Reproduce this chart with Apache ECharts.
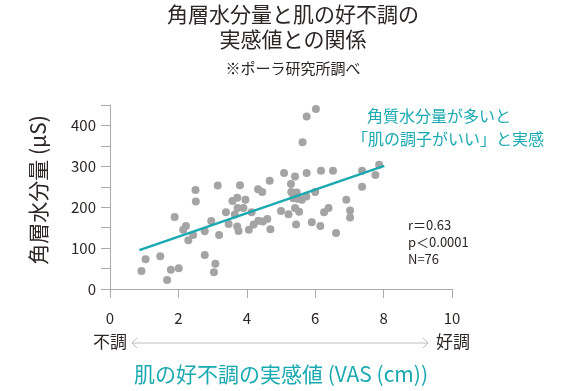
<!DOCTYPE html>
<html>
<head>
<meta charset="utf-8">
<script src="https://cdn.jsdelivr.net/npm/echarts@6/dist/echarts.min.js"></script>
<style>
html,body{margin:0;padding:0;background:#fff;}
#c{width:586px;height:391px;}
</style>
</head>
<body>
<div id="c"></div>
<script>
// VAS values (x) and stratum corneum water content (y)
const vasValues = [0.92,1.04,1.47,1.67,1.78,2.01,1.89,2.14,2.22,2.29,2.43,2.50,2.51,2.77,2.77,2.96,3.04,3.08,3.15,3.19,
  3.39,3.47,3.58,3.65,3.72,3.72,3.73,3.76,3.80,3.90,3.96,4.06,4.14,4.20,4.33,4.34,4.45,4.47,4.60,4.67,
  4.69,5.00,5.09,5.22,5.29,5.30,5.36,5.41,5.41,5.44,5.46,5.48,5.53,5.61,5.63,5.74,5.75,5.75,5.90,6.00,
  6.02,6.15,6.17,6.26,6.39,6.52,6.61,6.91,7.02,7.02,7.37,7.37,7.76,7.87];
const waterValues = [44,73,80,22,47,51,176,145,154,119,132,242,214,141,83,166,41,62,253,132,
  188,159,215,182,223,153,198,142,254,198,218,145,188,158,244,167,237,165,171,265,
  146,191,284,183,257,237,222,275,198,158,236,221,189,218,359,226,422,284,163,237,
  440,154,289,188,198,289,137,218,192,175,289,250,279,304];
// regression line end points
const trendX = [0.86, 8.02];
const trendY = [95, 301];
const xTicks = [0, 2, 4, 6, 8, 10];
const yTickLabels = [0, 100, 200, 300, 400];

const TEAL = '#19a9b0';
const DARK = '#2b2523';
const FONT = '"Noto Sans CJK JP", "Noto Sans", sans-serif';

const points = vasValues.map((v, i) => [v, waterValues[i]]);
const trend = trendX.map((v, i) => [v, trendY[i]]);

const chart = echarts.init(document.getElementById('c'), null, {renderer: 'canvas'});
chart.setOption({
  animation: false,
  backgroundColor: '#fff',
  textStyle: {fontFamily: FONT},
  title: {
    text: '角層水分量と肌の好不調の\n実感値との関係',
    subtext: '※ポーラ研究所調べ',
    left: 'center',
    top: -3,
    itemGap: 9,
    textStyle: {fontFamily: FONT, fontSize: 21, fontWeight: 'normal', color: DARK, lineHeight: 25},
    subtextStyle: {fontFamily: FONT, fontSize: 15, color: DARK}
  },
  grid: {left: 110, right: 134, top: 105, bottom: 102},
  xAxis: {
    type: 'value', min: xTicks[0], max: xTicks[xTicks.length - 1], interval: 2,
    axisLine: {show: true, lineStyle: {color: '#aaaaaa', width: 1}},
    axisTick: {show: true, length: 9, lineStyle: {color: '#aaaaaa'}},
    splitLine: {show: false},
    axisLabel: {margin: 22, fontSize: 15, color: DARK, fontFamily: FONT}
  },
  yAxis: {
    type: 'value', min: 0, max: 450, interval: 50,
    axisLine: {show: true, lineStyle: {color: '#aaaaaa', width: 1}},
    axisTick: {show: true, length: 9, lineStyle: {color: '#aaaaaa'}},
    splitLine: {show: false},
    axisLabel: {
      margin: 14, fontSize: 15, color: DARK, fontFamily: FONT,
      formatter: v => (yTickLabels.indexOf(v) >= 0 ? String(v) : '')
    }
  },
  series: [
    {
      type: 'scatter', data: points, symbolSize: 8,
      itemStyle: {color: '#a4a4a4', opacity: 1}, z: 2
    },
    {
      type: 'line', data: trend, symbol: 'none',
      lineStyle: {color: TEAL, width: 2.5}, z: 3
    }
  ],
  graphic: [
    {type: 'text', x: 38, y: 190, rotation: Math.PI / 2, style: {text: '角層水分量 (μS)', font: '21px ' + FONT, fill: DARK, align: 'center', verticalAlign: 'middle'}},
    {type: 'text', x: 367, y: 116, style: {text: '角質水分量が多いと', font: '16px ' + FONT, fill: TEAL, align: 'left', verticalAlign: 'middle'}},
    {type: 'text', x: 352, y: 139, style: {text: '「肌の調子がいい」と実感', font: '16px ' + FONT, fill: TEAL, align: 'left', verticalAlign: 'middle'}},
    {type: 'text', x: 408, y: 225, style: {text: 'r＝0.63', font: '13px ' + FONT, fill: DARK, align: 'left', verticalAlign: 'middle'}},
    {type: 'text', x: 408, y: 242, style: {text: 'p＜0.0001', font: '13px ' + FONT, fill: DARK, align: 'left', verticalAlign: 'middle'}},
    {type: 'text', x: 408, y: 259, style: {text: 'N=76', font: '13px ' + FONT, fill: DARK, align: 'left', verticalAlign: 'middle'}},
    {type: 'text', x: 93, y: 342, style: {text: '不調', font: '17px ' + FONT, fill: DARK, align: 'left', verticalAlign: 'middle'}},
    {type: 'text', x: 470, y: 342, style: {text: '好調', font: '17px ' + FONT, fill: DARK, align: 'right', verticalAlign: 'middle'}},
    {type: 'line', shape: {x1: 132, y1: 343, x2: 428, y2: 343}, style: {stroke: '#bdbdbd', lineWidth: 1}},
    {type: 'polyline', shape: {points: [[137, 338], [132, 343], [137, 348]]}, style: {stroke: '#bdbdbd', lineWidth: 1, fill: null}},
    {type: 'polyline', shape: {points: [[423, 338], [428, 343], [423, 348]]}, style: {stroke: '#bdbdbd', lineWidth: 1, fill: null}},
    {type: 'text', x: 281, y: 374, style: {text: '肌の好不調の実感値 (VAS (cm))', font: '21px ' + FONT, fill: TEAL, align: 'center', verticalAlign: 'middle'}}
  ]
});
</script>
</body>
</html>
